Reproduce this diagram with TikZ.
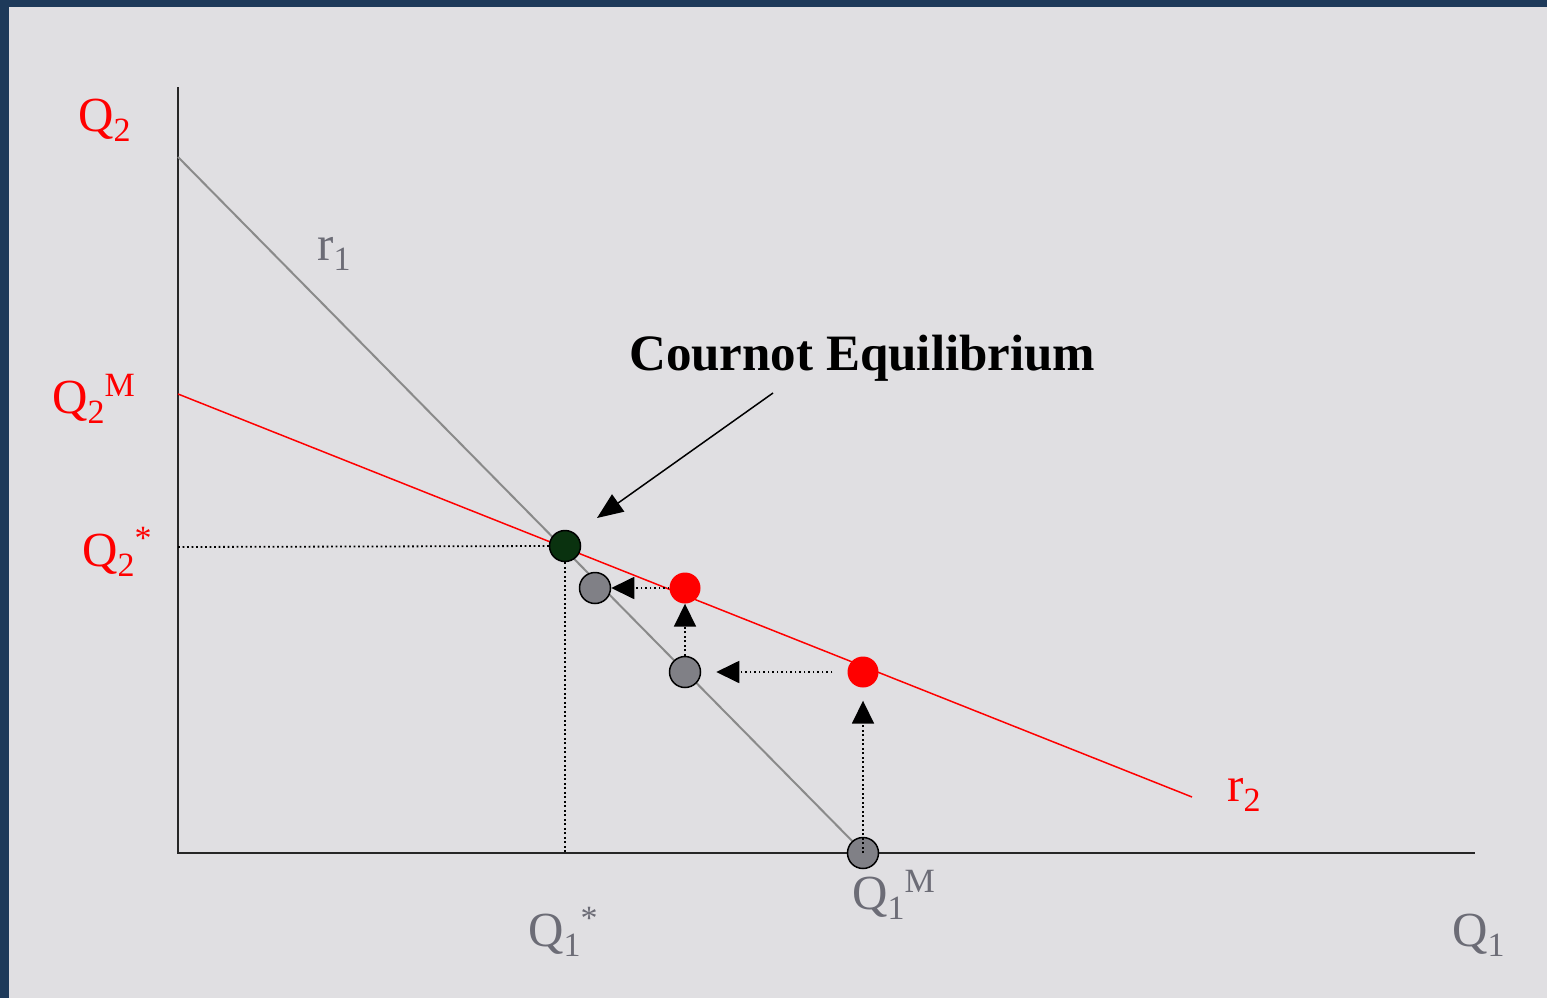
\documentclass[tikz,border=0pt]{standalone}
\usepackage{fontspec}
\setmainfont{Liberation Serif}
\usetikzlibrary{arrows.meta}
\definecolor{frame}{RGB}{30,58,90}
\definecolor{bg}{RGB}{224,223,226}
\definecolor{txtgray}{RGB}{108,108,118}
\definecolor{linegray}{RGB}{138,138,138}
\definecolor{dotgray}{RGB}{128,128,134}
\definecolor{eqgreen}{RGB}{10,50,15}
\newcommand\Sb[1]{\raisebox{-10pt}{\fontsize{34}{34}\selectfont #1}}
\newcommand\Sp[1]{\raisebox{17pt}{\fontsize{34}{34}\selectfont #1}}
\begin{document}
\begin{tikzpicture}[x=1pt,y=-1pt,
  lab/.style={inner sep=0, anchor=base west, font=\fontsize{49}{58}\selectfont},
  dotpt/.style={circle, minimum size=31pt, inner sep=0},
  graydot/.style={dotpt, fill=dotgray, draw=black, line width=1.5pt},
  reddot/.style={dotpt, fill=red},
  dotl/.style={line width=1.8pt, dash pattern=on 1.8pt off 2.7pt},
  tri/.style={-{Triangle[length=23pt,width=22pt]}}]
\useasboundingbox (0,0) rectangle (1547,998);
\fill[frame] (0,0) rectangle (1547,998);
\fill[bg] (9,7) rectangle (1547,998);
% coordinates
\coordinate (ytop) at (178,87);
\coordinate (O) at (178,853);
\coordinate (xend) at (1475,853);
\coordinate (r1a) at (178,157);
\coordinate (r1b) at (864,853);
\coordinate (r2a) at (178,394);
\coordinate (r2b) at (1192,797);
\coordinate (q2s) at (178,547);
\coordinate (q1s) at (565,853);
% axes and lines
\draw[line width=2pt, black!85] (ytop) -- (O) -- (xend);
\draw[line width=2pt, linegray] (r1a) -- (r1b);
\draw[line width=1.5pt, red] (r2a) -- (r2b);
% dots
\node[dotpt, fill=eqgreen, draw=black, line width=1.5pt] (eq) at (565,546) {};
\node[reddot] (R1) at (685,588) {};
\node[reddot] (R2) at (863,672) {};
\node[graydot] (G1) at (595,588) {};
\node[graydot] (G2) at (685,672) {};
\node[graydot] (G3) at (863,853) {};
% dotted guide lines
\draw[dotl] (q2s) -- (eq.west);
\draw[dotl] (eq.south) -- (q1s);
% adjustment arrows
\draw[dotl, tri, shorten >=13pt] (G3.center) -- (R2.south);
\draw[dotl, tri, shorten <=15pt, shorten >=15pt] (R2.west) -- (G2.east);
\draw[dotl, tri] (G2.north) -- (R1.south);
\draw[dotl, tri] (R1.west) -- (G1.east);
% Cournot label and arrow
\node[inner sep=0, anchor=base west, font=\fontsize{51}{60}\selectfont\bfseries] (ce) at (629,370) {Cournot Equilibrium};
\coordinate (ca) at (773,393);
\coordinate (cb) at (597,518);
\draw[line width=1.5pt, -{Triangle[length=26pt,width=21pt]}] (ca) -- (cb);
% labels
\node[lab, text=red] (lQ2) at (78,131) {Q\Sb{2}};
\node[lab, text=red] (lQ2M) at (52,413) {Q\Sb{2}\Sp{M}};
\node[lab, text=red] (lQ2s) at (82,566) {Q\Sb{2}\Sp{*}};
\node[lab, text=txtgray] (lr1) at (317,260) {r\Sb{1}};
\node[lab, text=red] (lr2) at (1227,801) {r\Sb{2}};
\node[lab, text=txtgray] (lQ1s) at (528,946) {Q\Sb{1}\Sp{*}};
\node[lab, text=txtgray] (lQ1M) at (852,909) {Q\Sb{1}\Sp{M}};
\node[lab, text=txtgray] (lQ1) at (1452,946) {Q\Sb{1}};
\end{tikzpicture}
\end{document}
